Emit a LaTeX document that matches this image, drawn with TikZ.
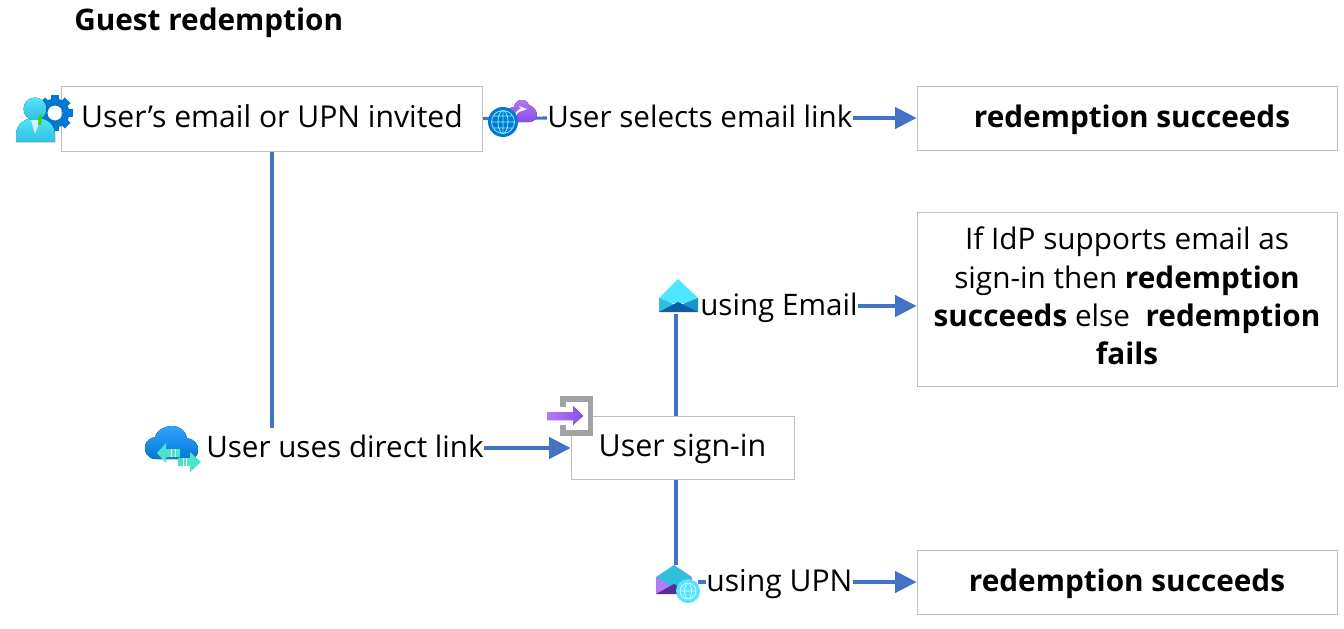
\documentclass[tikz,border=0pt]{standalone}
\usepackage{fontspec}
\setmainfont{Open Sans}
\usetikzlibrary{arrows.meta}
\definecolor{flowblue}{HTML}{4472C4}
\definecolor{boxgrey}{HTML}{BFBFBF}
\definecolor{gearblue}{HTML}{0078D4}
\definecolor{skylight}{HTML}{50E6FF}
\definecolor{skymid}{HTML}{32BEDD}
\definecolor{skydeep}{HTML}{1B93C8}
\definecolor{navy}{HTML}{0F5CA8}
\definecolor{purplelight}{HTML}{B77AF4}
\definecolor{purplemid}{HTML}{8A4FE8}
\definecolor{purpledeep}{HTML}{552F99}
\definecolor{mint}{HTML}{4DE3C8}
\definecolor{signgrey}{HTML}{A3A3A3}
\tikzset{
  box/.style={draw=boxgrey, line width=0.75pt, fill=white, inner sep=0pt, align=center, font=\fontsize{22.3}{28.7}\selectfont},
  oneline/.style={text height=19pt, text depth=5.5pt},
  lbl/.style={inner sep=0pt, oneline, font=\fontsize{22.2}{28.5}\selectfont},
  flow/.style={draw=flowblue, line width=2.3pt},
  arrow/.style={flow, -{Triangle[length=16pt, width=16pt]}},
}
\begin{document}
\begin{tikzpicture}[x=0.75pt, y=-0.75pt]
\useasboundingbox (0,0) rectangle (1344,628);

\node[anchor=west, inner sep=0pt, font=\fontsize{22.3}{28}\selectfont\bfseries] (title) at (74,23) {Guest redemption};

% boxes
\node[box, oneline, font=\fontsize{22.6}{28.7}\selectfont, minimum width=315.75pt, minimum height=48.75pt] (invited) at (272,118.5) {User’s email or UPN invited};
\node[box, oneline, minimum width=315pt, minimum height=48pt] (succeedsTop) at (1127,118) {\hspace*{7.5pt}\bfseries redemption succeeds};
\node[box, minimum width=315pt, minimum height=130.5pt] (succeedsMid) at (1127,299) {If IdP supports email as\\sign-in then \textbf{redemption}\\\textbf{succeeds} else\ \ \textbf{redemption}\\\textbf{fails}\rule[-4.5pt]{0pt}{4.5pt}};
\node[box, oneline, minimum width=315pt, minimum height=48pt] (succeedsLow) at (1127,582) {\bfseries redemption succeeds};
\node[box, oneline, font=\fontsize{22.8}{28.7}\selectfont, minimum width=167.25pt, minimum height=47.25pt] (signin) at (682.5,447.5) {User sign-in};

% labels on the lines
\node[lbl, anchor=west] (selects) at (547,118) {User selects email link};
\node[lbl, anchor=west] (direct) at (206,448) {User uses direct link};
\node[lbl, anchor=west] (email) at (700,306) {using Email};
\node[lbl, anchor=west, font=\fontsize{22.6}{28.5}\selectfont] (upn) at (706,582) {using UPN};
\coordinate (directtop) at (272,428);
\coordinate (emailfoot) at (676,314);
\coordinate (upnfoot) at (676,565);
\coordinate (upnstub) at (698,582);

% connectors
\draw[flow] (invited.east) -- (selects.west);
\draw[arrow] (selects.east) -- (selects.east -| succeedsTop.west);
\draw[flow] (invited.south) -- (directtop);
\draw[arrow] (direct.east) -- (signin.west |- direct.east);
\draw[flow] (emailfoot) -- (emailfoot |- signin.north);
\draw[arrow] (email.east) -- (email.east -| succeedsMid.west);
\draw[flow] (upnfoot |- signin.south) -- (upnfoot);
\draw[flow] (upnstub) -- (upn.west);
\draw[arrow] (upn.east) -- (upn.east -| succeedsLow.west);

% user icon
\foreach \a in {0,45,...,315}
  \fill[rotate around={\a:(55,113)}, gearblue] (51,95) rectangle (59,102);
\fill[even odd rule, gearblue] (55,113) circle (14.5) (55,113) circle (7.5);
\fill[top color=skylight, bottom color=skymid] (16,142) -- (16,134) .. controls (17,122) and (27,118) .. (35,118) .. controls (45,118) and (54,122) .. (55,134) -- (55,142) -- cycle;
\fill[top color=skylight, bottom color=skymid] (35,109) circle (11.5);
\fill[white!85!cyan] (31,120) -- (40,120) -- (35,134) -- cycle;
\fill[green!75!yellow!85!black] (39,115) -- (42,115) -- (41,125) -- (38,125) -- cycle;

% cloud and globe icon
\fill[top color=purplelight, bottom color=purplemid] (506,122) -- (506,115) .. controls (507,109) and (511,107) .. (514,107) .. controls (515,99) and (526,97) .. (529,105) .. controls (533,106) and (537,111) .. (537,115) .. controls (536,120) and (533,122) .. (529,122) -- cycle;
\draw[white, line width=1.3pt, -{Stealth[length=6pt]}] (515,116) .. controls (517,111) and (521,109) .. (527,109);
\fill[gearblue] (503,122) circle (15);
\draw[skylight!70!white, line width=0.6pt] (503,122) circle (11.5) (503,122) ellipse (5 and 11.5) (491,122) -- (515,122) (493,116) -- (513,116) (493,128) -- (513,128) (503,110) -- (503,134);

% cloud and arrows icon
\fill[top color=blue!45!cyan!80, bottom color=gearblue] (156,459) .. controls (147,459) and (144,451) .. (145,446) .. controls (146,440) and (151,438) .. (155,437) .. controls (157,429) and (166,426) .. (172,426) .. controls (180,426) and (186,431) .. (187,438) .. controls (194,439) and (199,444) .. (198,451) .. controls (198,456) and (194,459) .. (190,459) -- cycle;
\fill[mint] (157,453) -- (166,443) -- (166,449) -- (180,449) -- (180,457) -- (166,457) -- (166,463) -- cycle;
\fill[mint] (201,462) -- (190,452) -- (190,458) -- (178,458) -- (178,466) -- (190,466) -- (190,472) -- cycle;
\draw[white, line width=0.5pt] (171,449) -- (171,457) (175,449) -- (175,457) (183,458) -- (183,466) (186,458) -- (186,466);

% sign-in icon
\fill[white] (561,397) rectangle (593,436);
\draw[signgrey, line width=3.8pt] (563,407) -- (563,399) -- (590.5,399) -- (590.5,433) -- (563,433) -- (563,425);
\fill[left color=purplelight, right color=purplemid] (547,412) -- (573,412) -- (573,406) -- (583,416) -- (573,425) -- (573,420) -- (547,420) -- cycle;

% email icon
\fill[skylight] (659,298) -- (678,279) -- (698,298) -- (698,303) -- (659,303) -- cycle;
\fill[skymid] (659,298) -- (678,306) -- (659,312) -- cycle;
\fill[skydeep] (698,298) -- (678,306) -- (698,312) -- cycle;
\fill[navy] (659,312) -- (678,302) -- (698,312) -- cycle;

% email and globe icon
\fill[purplelight] (656,577) -- (692,577) -- (692,594) -- (656,594) -- cycle;
\fill[skymid] (656,577) -- (674,565) -- (692,577) -- (674,588) -- cycle;
\fill[purpledeep] (656,594) -- (674,584) -- (692,594) -- cycle;
\fill[skylight] (688,591) circle (12);
\draw[white, line width=0.5pt] (688,591) circle (8) (688,591) ellipse (3.5 and 8) (680,591) -- (696,591);
\end{tikzpicture}
\end{document}
